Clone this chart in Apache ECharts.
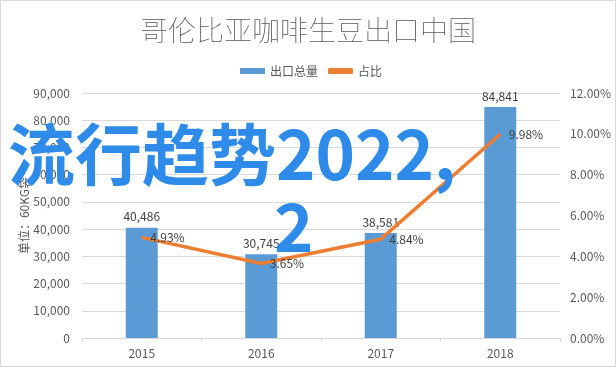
<!DOCTYPE html>
<html>
<head>
<meta charset="utf-8">
<script src="https://cdn.jsdelivr.net/npm/echarts@6/dist/echarts.min.js"></script>
<style>
html,body{margin:0;padding:0;background:#fff;}
#c{width:616px;height:369px;}
</style>
</head>
<body>
<div id="c"></div>
<script>
const titleText = '哥伦比亚咖啡生豆出口中国';
const categories = ['2015', '2016', '2017', '2018'];
const exportVolume = [40486, 30745, 38581, 84841];
const sharePct = [4.93, 3.65, 4.84, 9.98];
const seriesNames = ['出口总量', '占比'];
const leftAxisName = '单位：60KG袋';
const overlayLine1 = '流行趋势2022,';
const overlayLine2 = '2';

const FONT = '"Noto Sans CJK SC", "Open Sans", sans-serif';
const GREY = '#595959';

const chart = echarts.init(document.getElementById('c'), null, {renderer: 'canvas'});
chart.setOption({
  backgroundColor: '#fff',
  animation: false,
  textStyle: {fontFamily: FONT},
  title: {
    text: titleText,
    left: 'center',
    top: 11,
    textStyle: {fontFamily: FONT, fontSize: 28, fontWeight: 'lighter', color: GREY}
  },
  legend: {
    left: 235,
    top: 60,
    itemWidth: 25,
    itemHeight: 6,
    itemGap: 10,
    textStyle: {fontFamily: FONT, fontSize: 12, color: GREY},
    data: [{name: seriesNames[0], icon: 'rect'}, {name: seriesNames[1], icon: 'roundRect'}]
  },
  grid: {left: 82, right: 56, top: 93, bottom: 31, containLabel: false},
  xAxis: {
    type: 'category',
    data: categories,
    boundaryGap: true,
    axisLine: {lineStyle: {color: '#D9D9D9'}},
    axisTick: {show: true, length: 4, lineStyle: {color: '#D9D9D9'}},
    axisLabel: {fontFamily: FONT, fontSize: 12, color: GREY, margin: 9}
  },
  yAxis: [{
    type: 'value',
    min: 0, max: 90000, interval: 10000,
    name: leftAxisName,
    nameLocation: 'middle',
    nameRotate: 90,
    nameGap: 52,
    nameMoveOverlap: false,
    nameTextStyle: {fontFamily: FONT, fontSize: 12, color: GREY},
    axisLine: {show: false},
    axisTick: {show: false},
    splitLine: {lineStyle: {color: '#D9D9D9'}},
    axisLabel: {
      fontFamily: FONT, fontSize: 12, color: GREY, margin: 12,
      formatter: v => v.toLocaleString('en-US')
    }
  }, {
    type: 'value',
    min: 0, max: 12, interval: 2,
    axisLine: {show: false},
    axisTick: {show: false},
    splitLine: {show: false},
    axisLabel: {
      fontFamily: FONT, fontSize: 12, color: GREY, margin: 10,
      formatter: v => v.toFixed(2) + '%'
    }
  }],
  series: [{
    name: seriesNames[0],
    type: 'bar',
    data: exportVolume,
    barWidth: 32,
    itemStyle: {color: '#5B9BD5'},
    label: {
      show: true, position: 'top', distance: 5,
      fontFamily: FONT, fontSize: 12, color: '#404040',
      formatter: p => p.value.toLocaleString('en-US')
    }
  }, {
    name: seriesNames[1],
    type: 'line',
    yAxisIndex: 1,
    data: sharePct,
    symbol: 'circle',
    symbolSize: 1,
    showSymbol: true,
    itemStyle: {color: '#ED7D31'},
    lineStyle: {color: '#ED7D31', width: 3.5},
    label: {
      show: true, position: 'right', distance: 8,
      fontFamily: FONT, fontSize: 12, color: '#404040',
      formatter: p => p.value.toFixed(2) + '%'
    }
  }],
  graphic: [{
    type: 'rect',
    shape: {x: 0.5, y: 0.5, width: 615, height: 366},
    style: {fill: 'none', stroke: '#D9D9D9', lineWidth: 1},
    silent: true,
    z: 1
  }, {
    type: 'text',
    left: 8,
    top: 121,
    z: 100,
    style: {
      text: overlayLine1,
      font: 'bold 67px "Noto Sans CJK SC", sans-serif',
      fill: '#2E8BEA'
    }
  }, {
    type: 'text',
    left: 274,
    top: 193,
    z: 100,
    style: {
      text: overlayLine2,
      font: 'bold 67px "Noto Sans CJK SC", sans-serif',
      fill: '#2E8BEA'
    }
  }]
});
</script>
</body>
</html>
